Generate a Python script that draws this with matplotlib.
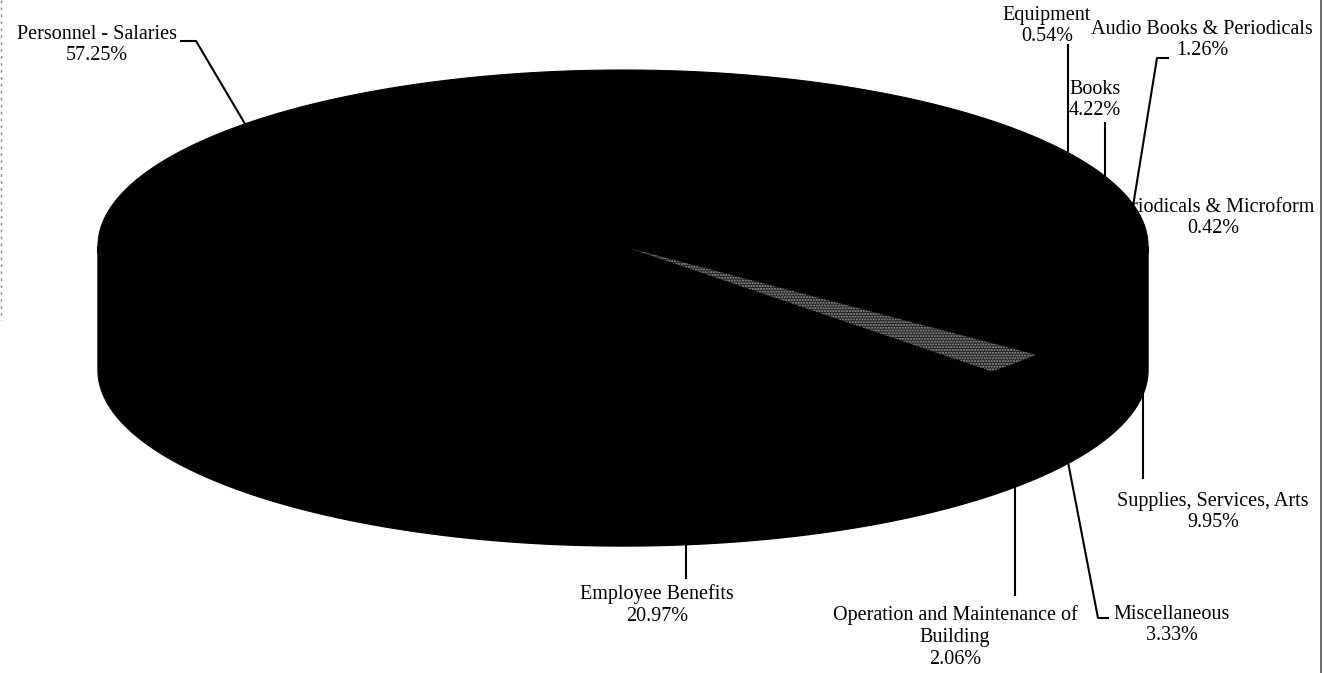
import numpy as np
import matplotlib.pyplot as plt
from matplotlib.patches import Polygon

plt.rcParams['font.family'] = ['Liberation Serif', 'DejaVu Serif']

# slices, counterclockwise starting from "Supplies"
nomi = ["Supplies, Services, Arts", "Periodicals & Microform", "Audio Books & Periodicals",
        "Books", "Equipment", "Personnel - Salaries", "Employee Benefits",
        "Operation and Maintenance of\nBuilding", "Miscellaneous"]
percentuali = [9.95, 0.42, 1.26, 4.22, 0.54, 57.25, 20.97, 2.06, 3.33]
colori = ["black", "black", "black", "black", "black", "black", "black", "gray", "black"]

# label placement (pixel coords of the image)
pos_etichette = [(1213, 512), (1213, 218), (1202, 40), (1095, 100), (1047, 26),
                 (97, 45), (657, 605), (955, 637), (1172, 625)]
# elbow points of leader lines (None = straight vertical to y)
gomiti = [[("v", 478)], None, [(1157, 58), (1168, 58)], [("v", 123)], [("v", 45)],
          [(196, 41), (181, 41)], [("v", 578)], [("v", 595)], [(1098, 618), (1108, 618)]]

# pie geometry
cx, cy = 623, 246
a, b = 525, 176
spessore = 124
inizio = -26.0

fig = plt.figure(figsize=(13.24, 6.73), dpi=100)
ax = fig.add_axes([0, 0, 1, 1])
ax.set_xlim(0, 1324)
ax.set_ylim(673, 0)
ax.axis("off")


def punto(t, dy=0):
    r = np.radians(t)
    return cx + a * np.cos(r), cy + dy - b * np.sin(r)


# side wall (front half)
tt = np.linspace(180, 360, 200)
sopra = [punto(t) for t in tt]
sotto = [punto(t, spessore) for t in tt[::-1]]
ax.add_patch(Polygon(sopra + sotto, closed=True, fc="black", ec="black", lw=1, zorder=2))

# top faces
angoli = inizio + np.concatenate([[0], np.cumsum(percentuali)]) * 3.6
for i in range(len(percentuali)):
    t0, t1 = angoli[i], angoli[i + 1]
    tt = np.linspace(t0, t1, max(3, int(t1 - t0) * 2))
    pts = [(cx, cy)] + [punto(t) for t in tt]
    if colori[i] == "gray":
        ax.add_patch(Polygon(pts, closed=True, fc="#202020", ec="#9a9a9a",
                             hatch="......", lw=0, zorder=3))
    else:
        ax.add_patch(Polygon(pts, closed=True, fc="black", ec="black", lw=0.8, zorder=3))

# labels and leader lines
for i, nome in enumerate(nomi):
    x, y = pos_etichette[i]
    ax.text(x, y, f"{nome}\n{percentuali[i]:.2f}%", ha="center", va="center",
            fontsize=14.5, linespacing=1.2, zorder=1)
    if gomiti[i] is None:
        continue
    media = (angoli[i] + angoli[i + 1]) / 2
    if np.sin(np.radians(media)) > 0:
        px, py = punto(media)
    else:
        px, py = punto(media, spessore)
    xs, ys = [px], [py]
    for g in gomiti[i]:
        if g[0] == "v":
            xs.append(px)
            ys.append(g[1])
        else:
            xs.append(g[0])
            ys.append(g[1])
    ax.plot(xs, ys, color="black", lw=1.5, zorder=4)

# scan borders
ax.plot([1321, 1321], [0, 673], color="#555555", lw=1.2)
ax.plot([1, 1], [0, 320], color="#888888", lw=1, ls=(0, (2, 3)))

fig.savefig("out.png", dpi=100)
